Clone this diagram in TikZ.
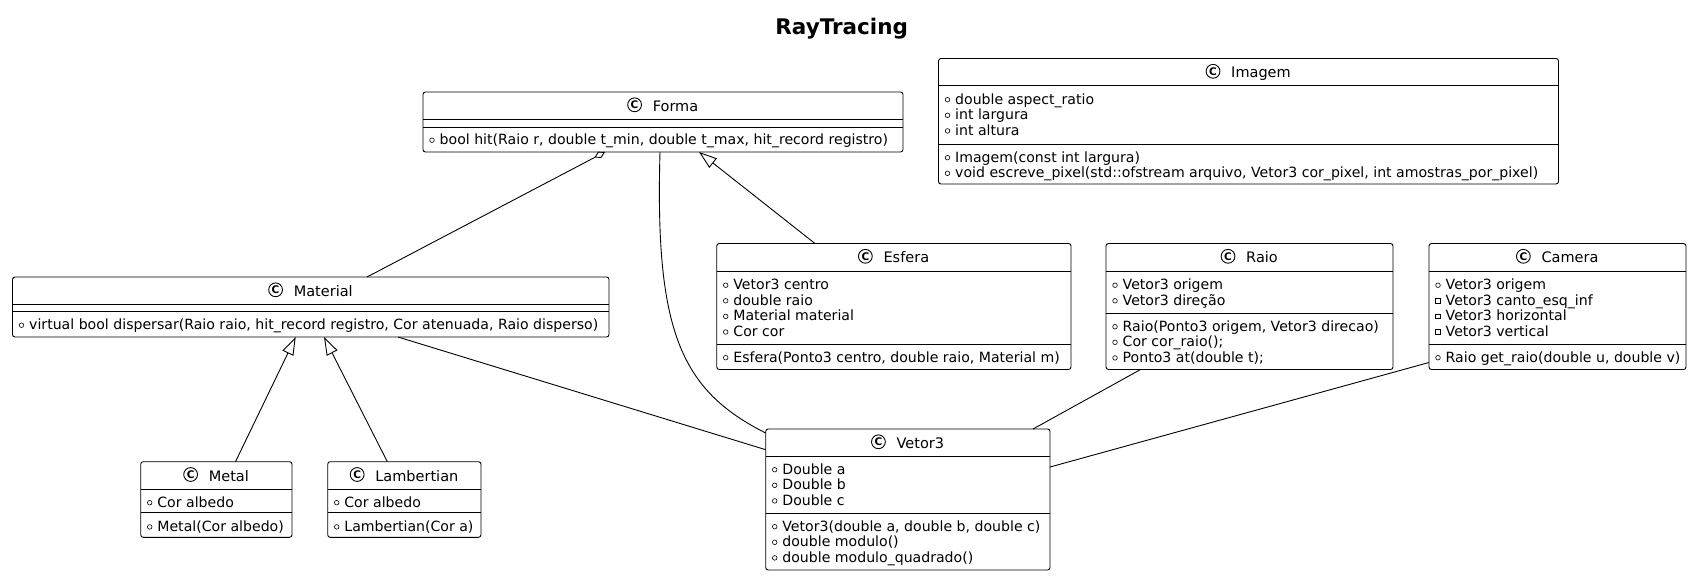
\documentclass[tikz,border=0pt]{standalone}
\usepackage{fontspec}
\setmainfont{DejaVu Sans}
\usetikzlibrary{arrows.meta,calc}
\tikzset{
  box/.style={draw, rounded corners=2.5pt, anchor=north west, inner sep=0pt, outer sep=0pt, line width=0.9pt, fill=white},
  sepline/.style={line width=0.9pt},
  member/.style={anchor=base west, inner sep=0pt, font=\fontsize{14.1}{16}\selectfont},
  hname/.style={anchor=base, inner sep=0pt, font=\fontsize{14.5}{16}\selectfont},
  cicon/.style={circle, draw, line width=0.9pt, minimum size=13.8pt, inner sep=0pt, font=\bfseries\fontsize{10.5}{10.5}\selectfont},
  pub/.style={circle, draw, line width=0.6pt, minimum size=4.6pt, inner sep=0pt},
  priv/.style={rectangle, draw, line width=0.6pt, minimum size=4.6pt, inner sep=0pt},
  conn/.style={line width=0.9pt},
  inh/.style={conn, {Triangle[open, length=18pt, width=12pt]}-},
  agg/.style={conn, {Diamond[open, length=12pt, width=7pt]}-},
  titlef/.style={anchor=base, inner sep=0pt, font=\bfseries\fontsize{21.5}{24}\selectfont}
}
\newcommand{\memb}[5]{%
  \node[#4] (#1m) at ([xshift=9pt,yshift={-(#3pt)+4.3pt}]#2.north west) {};
  \node[member] (#1) at ([xshift=16.5pt,yshift={-(#3pt)}]#2.north west) {#5};
}
\newcommand{\hdr}[3]{%
  \node[hname] (#1) at ([xshift=12.5pt,yshift=-19.3pt]#2.north) {#3};
  \node[cicon] (#1i) at ([xshift=-18pt,yshift=6.5pt]#1.base west) {C};
}
\newcommand{\sepl}[2]{\draw[sepline] ([yshift=-#2pt]#1.north west) -- ([yshift=-#2pt]#1.north east);}
\begin{document}
\begin{tikzpicture}[x=1pt,y=-1pt]
\path[fill=white] (0,0) rectangle (1692,576);
\useasboundingbox (0,0) rectangle (1692,576);

\node[titlef] (title) at (841.7,34) {RayTracing};

% Forma
\node[box, minimum width=480pt, minimum height=60pt] (forma) at (423,92) {};
\hdr{formah}{forma}{Forma}
\sepl{forma}{27}
\sepl{forma}{35}
\memb{fm1}{forma}{52.5}{pub}{bool hit(Raio r, double t\_min, double t\_max, hit\_record registro)}

% Imagem
\node[box, minimum width=620pt, minimum height=125.5pt] (imagem) at (938.5,58.5) {};
\hdr{imagemh}{imagem}{Imagem}
\sepl{imagem}{27.2}
\sepl{imagem}{85.5}
\memb{ia1}{imagem}{45.5}{pub}{double aspect\_ratio}
\memb{ia2}{imagem}{61.1}{pub}{int largura}
\memb{ia3}{imagem}{76.7}{pub}{int altura}
\memb{im1}{imagem}{103.5}{pub}{Imagem(const int largura)}
\memb{im2}{imagem}{119.1}{pub}{void escreve\_pixel(std::ofstream arquivo, Vetor3 cor\_pixel, int amostras\_por\_pixel)}

% Material
\node[box, minimum width=596.5pt, minimum height=60pt] (material) at (12.5,277) {};
\hdr{materialh}{material}{Material}
\sepl{material}{27}
\sepl{material}{34}
\memb{mm1}{material}{52.5}{pub}{virtual bool dispersar(Raio raio, hit\_record registro, Cor atenuada, Raio disperso)}

% Esfera
\node[box, minimum width=354.3pt, minimum height=126pt] (esfera) at (716.7,243.5) {};
\hdr{esferah}{esfera}{Esfera}
\sepl{esfera}{28}
\sepl{esfera}{100.5}
\memb{ea1}{esfera}{46}{pub}{Vetor3 centro}
\memb{ea2}{esfera}{61.6}{pub}{double raio}
\memb{ea3}{esfera}{77.2}{pub}{Material material}
\memb{ea4}{esfera}{92.8}{pub}{Cor cor}
\memb{em1}{esfera}{118.5}{pub}{Esfera(Ponto3 centro, double raio, Material m)}

% Raio
\node[box, minimum width=287pt, minimum height=126pt] (raio) at (1106,243.5) {};
\hdr{raioh}{raio}{Raio}
\sepl{raio}{28}
\sepl{raio}{69.5}
\memb{ra1}{raio}{46}{pub}{Vetor3 origem}
\memb{ra2}{raio}{61.6}{pub}{Vetor3 direção}
\memb{rm1}{raio}{87.5}{pub}{Raio(Ponto3 origem, Vetor3 direcao)}
\memb{rm2}{raio}{103.1}{pub}{Cor cor\_raio();}
\memb{rm3}{raio}{118.7}{pub}{Ponto3 at(double t);}

% Camera
\node[box, minimum width=257pt, minimum height=126pt] (camera) at (1429,243.5) {};
\hdr{camerah}{camera}{Camera}
\sepl{camera}{28}
\sepl{camera}{100.5}
\memb{ca1}{camera}{46}{pub}{Vetor3 origem}
\memb{ca2}{camera}{61.6}{priv}{Vetor3 canto\_esq\_inf}
\memb{ca3}{camera}{77.2}{priv}{Vetor3 horizontal}
\memb{ca4}{camera}{92.8}{priv}{Vetor3 vertical}
\memb{cm1}{camera}{118.5}{pub}{Raio get\_raio(double u, double v)}

% Vetor3
\node[box, minimum width=284.3pt, minimum height=141pt] (vetor) at (765.7,429) {};
\hdr{vetorh}{vetor}{Vetor3}
\sepl{vetor}{27}
\sepl{vetor}{84}
\memb{va1}{vetor}{45}{pub}{Double a}
\memb{va2}{vetor}{60.6}{pub}{Double b}
\memb{va3}{vetor}{76.2}{pub}{Double c}
\memb{vm1}{vetor}{102}{pub}{Vetor3(double a, double b, double c)}
\memb{vm2}{vetor}{117.6}{pub}{double modulo()}
\memb{vm3}{vetor}{133.2}{pub}{double modulo\_quadrado()}

% Metal
\node[box, minimum width=151.3pt, minimum height=75.6pt] (metal) at (140.7,461.7) {};
\hdr{metalh}{metal}{Metal}
\sepl{metal}{27.3}
\sepl{metal}{51}
\memb{mea1}{metal}{45.3}{pub}{Cor albedo}
\memb{mem1}{metal}{69.5}{pub}{Metal(Cor albedo)}

% Lambertian
\node[box, minimum width=153.3pt, minimum height=75.6pt] (lamb) at (327.7,461.7) {};
\hdr{lambh}{lamb}{Lambertian}
\sepl{lamb}{27.3}
\sepl{lamb}{51}
\memb{la1}{lamb}{45.3}{pub}{Cor albedo}
\memb{lm1}{lamb}{69.5}{pub}{Lambertian(Cor a)}

% Connectors
\draw[agg] ([xshift=182pt]forma.south west) -- ([xshift=354.5pt]material.north west);
\draw[inh] ([xshift=276pt]forma.south west) -- ([xshift=98.3pt]esfera.north west);
\draw[conn] ([xshift=237pt]forma.south west) .. controls (655,330) and (680,390) .. ([yshift=-4pt]vetor.north west);
\draw[inh] ([xshift=283.2pt]material.south west) -- ([xshift=94.8pt]metal.north west);
\draw[inh] ([xshift=311.5pt]material.south west) -- ([xshift=59.6pt]lamb.north west);
\draw[conn] ([xshift=385.5pt]material.south west) -- ([yshift=-20.7pt]vetor.north west);
\draw[conn] ([xshift=34.6pt]raio.south west) -- ([xshift=267.3pt]vetor.north west);
\draw[conn] ([yshift=-119pt]camera.north west) -- ([yshift=-38pt]vetor.north east);
\end{tikzpicture}
\end{document}
